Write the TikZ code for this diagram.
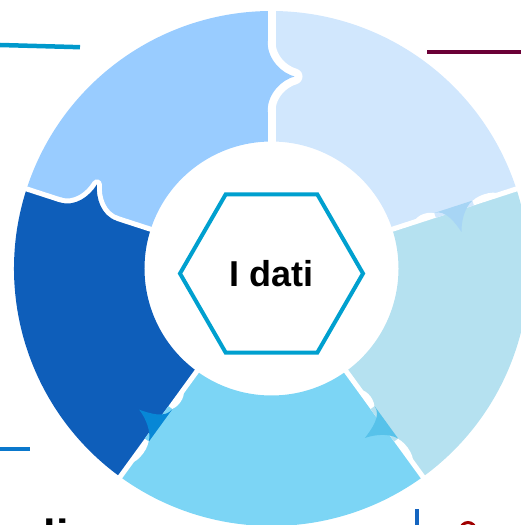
\documentclass[tikz,border=0pt]{standalone}
\usepackage{fontspec}
\setmainfont{Liberation Sans}
\usetikzlibrary{shapes.geometric}
\definecolor{cTL}{HTML}{99CCFF}
\definecolor{cTR}{HTML}{D1E7FD}
\definecolor{cR}{HTML}{B5E1F0}
\definecolor{cB}{HTML}{7CD5F5}
\definecolor{cL}{HTML}{0E5EBA}
\definecolor{oTR}{HTML}{A7D5F5}
\definecolor{oR}{HTML}{57C2EA}
\definecolor{oB}{HTML}{0787D6}
\definecolor{hexCol}{HTML}{00A0CF}
\definecolor{lnTeal}{HTML}{0099CC}
\definecolor{lnMaroon}{HTML}{6B0036}
\definecolor{lnBlue}{HTML}{0A78CC}
\definecolor{lnBlueV}{HTML}{1565C0}
\definecolor{lnRed}{HTML}{A00000}
\newcommand\Rin{127}
\newcommand\Rout{257.5}
\newcommand\RM{192}
\newcommand\ringsector[3]{\fill[#1] (#2:\Rin) -- (#2:\Rout) arc[start angle=#2,end angle=#3,radius=\Rout] -- (#3:\Rin) arc[start angle=#3,end angle=#2,radius=\Rin] -- cycle;}
\newcommand\gapline[2]{\begin{scope}[rotate=#1]\draw[white,line width=#2] (\Rin-3,0) -- (\Rout+3,0);\end{scope}}
% clean tab: angle, owner colour, half gap, W, H, white width
\newcommand\cleantab[6]{%
\begin{scope}[rotate=#1]
 \begin{scope}
  \clip (\Rin-5,#3) rectangle (\Rout+5,-80);
  \draw[white,line width=#6,line join=round] (\RM+#4,#3) .. controls (\RM+0.45*#4,#3) and (\RM+3,-0.5*#5) .. (\RM,-#5) .. controls (\RM-3,-0.5*#5) and (\RM-0.45*#4,#3) .. (\RM-#4,#3);
 \end{scope}
 \fill[#2] (\RM+#4,#3+1) -- (\RM+#4,#3) .. controls (\RM+0.45*#4,#3) and (\RM+3,-0.5*#5) .. (\RM,-#5) .. controls (\RM-3,-0.5*#5) and (\RM-0.45*#4,#3) .. (\RM-#4,#3) -- (\RM-#4,#3+1) -- cycle;
\end{scope}}
% overlapping tab: angle, owner colour, overlap colour
\newcommand\overtab[3]{%
\begin{scope}[rotate=#1]
 \fill[white] (\RM+18,0) .. controls (\RM+22,6.5) and (\RM+44,6.5) .. (\RM+48,0) -- cycle;
 \fill[white] (\RM-18,0) .. controls (\RM-22,6.5) and (\RM-38,6.5) .. (\RM-42,0) -- cycle;
 \fill[#2] (\RM+20,3) -- (\RM+20,-2.5) -- (\RM-20,-2.5) -- (\RM-20,3) -- cycle;
 \fill[#3] (\RM+20,2.5) .. controls (\RM+10,-2) and (\RM+3,-14) .. (\RM,-24) .. controls (\RM-3,-14) and (\RM-8,2.5) .. (\RM-20,2.5) -- cycle;
\end{scope}}
\begin{document}
\begin{tikzpicture}[x=1pt,y=1pt,
  deco/.style={line width=4.5pt},
  hexa/.style={draw=hexCol,line width=4pt,regular polygon,regular polygon sides=6,minimum size=183pt,inner sep=0pt,outer sep=0pt,font=\fontsize{36}{40}\selectfont\bfseries},
  cut/.style={font=\fontsize{45}{50}\selectfont\bfseries,inner sep=0pt,anchor=base west}]
\useasboundingbox (0,0) rectangle (521,525);
\clip (0,0) rectangle (521,525);
\begin{scope}[shift={(271.5,256.5)}]
 \ringsector{cTL}{90}{162}
 \ringsector{cTR}{18}{90}
 \ringsector{cR}{-54}{18}
 \ringsector{cB}{-126}{-54}
 \ringsector{cL}{162}{234}
 \gapline{90}{8pt}
 \gapline{18}{5pt}
 \gapline{-54}{5pt}
 \gapline{-126}{5pt}
 \gapline{162}{5pt}
 \cleantab{90}{cTL}{4}{35}{23}{16pt}
 \cleantab{162}{cL}{2.5}{30}{26}{10pt}
 \overtab{18}{cTR}{oTR}
 \overtab{-54}{cR}{oR}
 \overtab{-126}{cB}{oB}
\end{scope}
\node[hexa] (hex) at (271.5,251.5) {I dati};
\coordinate (tl1) at (0,480);
\coordinate (tl2) at (80,477.8);
\draw[deco,lnTeal] (tl1) -- (tl2);
\coordinate (tr1) at (427,473.2);
\coordinate (tr2) at (521,473.2);
\draw[deco,lnMaroon] (tr1) -- (tr2);
\coordinate (bl1) at (0,75.8);
\coordinate (bl2) at (30,75.8);
\draw[deco,lnBlue] (bl1) -- (bl2);
\coordinate (br1) at (416.8,15.7);
\coordinate (br2) at (416.8,-2);
\draw[deco,lnBlueV] (br1) -- (br2);
\coordinate (rc) at (468,-5);
\draw[lnRed,line width=3pt] (rc) circle[radius=7.5];
\node[cut] (bottomtext) at (43.6,-26.8) {li};
\end{tikzpicture}
\end{document}
